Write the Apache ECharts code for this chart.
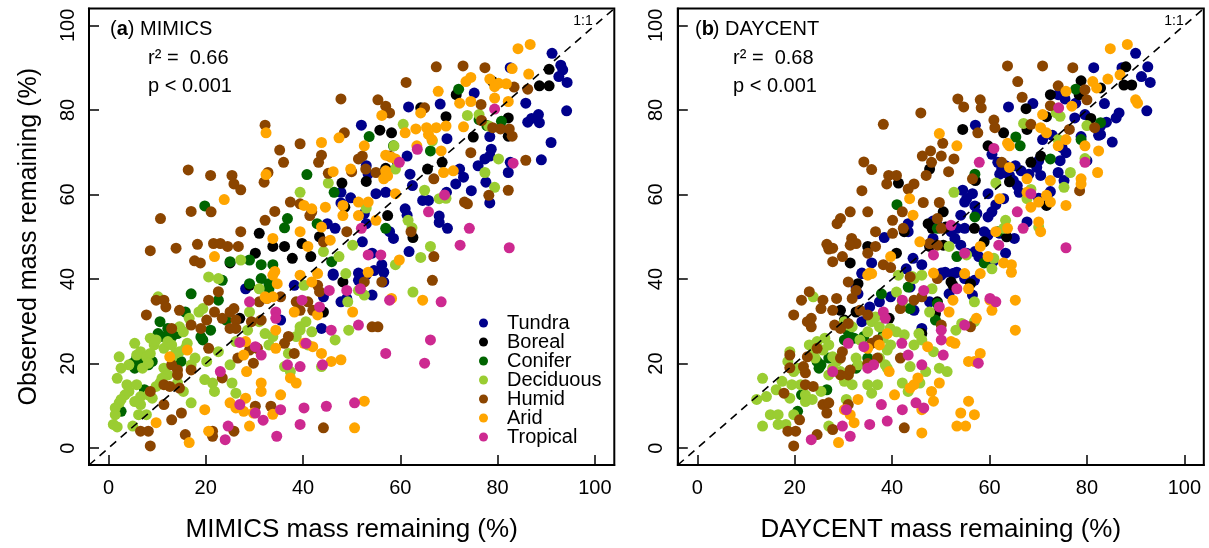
<!DOCTYPE html>
<html>
<head>
<meta charset="utf-8">
<script src="https://cdn.jsdelivr.net/npm/echarts@6/dist/echarts.min.js"></script>
<style>
  html, body { margin: 0; padding: 0; background: #fff; }
  #chart { width: 1209px; height: 548px; }
</style>
</head>
<body>
<div id="chart"></div>
<script>
// observed vs modelled litter mass remaining (%), [model, observed]
const categories = ["Tundra", "Boreal", "Conifer", "Deciduous", "Humid", "Arid", "Tropical"];
const colors = ["#00008B", "#000000", "#006400", "#9ACD32", "#8B4500", "#FFA500", "#CD2990"];
const ticks = [0, 20, 40, 60, 80, 100];
const oneToOne = [-4, 104];

// panel (a) MIMICS
const tundraA = [[91.2,93.4],[93,90.6],[93.4,89.5],[92.6,87.9],[94.3,86.5],[94.2,79.8],[91,72.3],[89,68.2],[88.4,78.9],[87,78],[88.6,77],[86.2,77.1],[85.8,81.6],[82.6,90],[75.2,84],[68.2,81.4],[61.7,80.7],[52,76.4],[69.6,73.2],[78.4,73.7],[78.7,70.7],[78.4,69.1],[77.4,68.4],[76,66.8],[82.6,67.6],[82.2,65.2],[72.2,66],[73,64.1],[71.4,62.5],[69.5,60.5],[77.6,62.9],[78.4,58],[74.6,60.9],[64.6,58.6],[62.5,62.1],[61,56.6],[61.4,55.1],[68,54.9],[69.7,52],[65.8,58.6],[61.4,69.1],[59.4,67.6],[62,64.8],[53,66.8],[53.4,64.8],[55,60.2],[57,60.5],[47.8,60.5],[47.8,58],[49.8,59.2],[52.6,55.5],[53,53.1],[45,53.1],[46.6,52],[57.8,51.2],[58.6,49.6],[52.2,48.8],[54.2,46.1],[56.2,43.4],[61.8,46.5],[46.2,41.2],[51.4,41.4],[53,41],[68,53.4],[46.2,40.9],[51.4,39.7],[54.6,42],[56.6,41.6],[56.6,39.3],[54.2,36.2],[47.8,34.6],[49,35.4],[44.2,35.8],[43.8,28.3],[35.4,30.3],[28.2,37.7],[38.2,38.5]];
const borealA = [[90.6,89.6],[88.6,85.7],[90.6,85.7],[79,86.7],[71.5,83.6],[75,73.6],[82.2,78.1],[82.2,73.8],[64.2,80.5],[69.4,78.4],[55.8,75.2],[58.2,74.6],[68.6,67.6],[65.6,66],[57,66.2],[53,63.1],[48,62.7],[31,50.8],[33.8,47.7],[36.2,47.7],[30.2,46.1],[39.8,48.4],[43.4,50],[48.6,57],[57.4,55],[62.6,49.8],[41.6,45.3],[37.8,44.9],[25,43.8],[48.2,39.3],[44.2,32.2],[27,30.7],[29,38.5]];
const coniferA = [[72,84.9],[76.2,77.7],[77.8,76.3],[80.8,77.3],[53.6,73.7],[58.6,71.5],[66.2,70.3],[40.8,64.7],[46.4,60.5],[19.8,57.3],[36.8,54.3],[36.2,52.1],[42.9,53.1],[57,52],[45.9,44.1],[29,44.5],[31.4,43.4],[33.8,43.4],[25,44.1],[23.4,39.7],[17,36.5],[10.6,29.9],[10.2,27.1],[11.4,26.3],[13,26.3],[14.2,27.1],[12.2,28.3],[13.4,27.9],[14.9,27.9],[14.9,20.5],[5,20.1],[5.8,21.3],[6.6,19.7],[7.4,21.3],[8.2,19.7],[9,20.5],[5.4,18.9],[7.4,13.8],[2.6,8.7],[15.8,32.2],[19,26.3],[19.4,25.6],[21,27.9],[22.6,35],[29,38.9],[33,37.7],[33,38.9],[31.4,40.1],[24.2,30.3]];
const deciduousA = [[60.6,76.6],[73.8,78.7],[76.2,78.9],[78.2,76.2],[58.7,71.5],[66.6,72.7],[59,66],[80.2,68.4],[77.4,65.2],[79.4,61.7],[45.2,62.7],[39.4,60.5],[53,56.8],[65,61],[68,59],[61.6,53.9],[62.4,52.1],[50.2,48],[47.4,45.3],[44.2,46.5],[59,43.4],[64.2,45.1],[66.2,47.7],[69.4,59.1],[27.2,44.5],[20.6,40.5],[22.6,40.1],[10.2,35.8],[1.8,16.5],[4.2,19.7],[2.6,18.9],[2.2,21.6],[3.8,15],[4.2,13.4],[3.4,12.6],[2.6,11.5],[2.2,10.7],[1.4,9.5],[5.8,15],[6.6,12.2],[6.6,10.3],[6.2,7.9],[5.4,11],[1,5.6],[1.8,5],[1.4,7.9],[5,5.2],[7.8,7.9],[8.2,12.6],[9,11.8],[9.8,14.6],[10.6,15.4],[5.4,24.8],[5.8,22],[6.6,22.8],[7.8,21.6],[8.6,22.4],[9.4,24.4],[8.6,26],[9.4,25.2],[9.8,25.6],[11.4,23.6],[12.2,25.2],[13,24.4],[7,18.9],[8.2,20.1],[11.4,18.9],[12.2,17.3],[11,16.5],[13,21.3],[13.8,22.4],[14.6,22.8],[14.6,28.7],[15.4,27.5],[16.2,24.8],[15.8,23.6],[17,19.7],[17.8,21.3],[18.6,32.2],[19.4,33],[20.2,20.5],[19.8,16.2],[21.4,15.4],[21.8,13.4],[22.6,22.8],[25,19.7],[25.4,15.4],[26.2,13],[26.2,25.2],[29,32.2],[28.6,27.9],[31,29.9],[32.2,27.1],[33,24.4],[30.6,23.6],[31,37.7],[33.8,26.4],[37,22.4],[38.6,26.4],[39.4,28.7],[41,24.4],[40.2,38.5],[36.2,19.3],[37.4,18.1],[39.4,27.9],[40.6,29.9],[41.8,27.5],[43.8,19.3],[46.6,25.6],[49.4,27.9],[49.2,34.6],[48.8,41.3],[52.6,36.2],[51.4,37.3],[62.6,36.9],[17,10.7],[15.4,13.4],[14.2,15.4],[16.6,30.7]];
const humidA = [[67.4,90.2],[72.9,90.4],[77.4,90],[61.2,86.5],[47.8,82.6],[55.4,82.4],[57,80.9],[57.8,79.3],[65,80.5],[32.2,76.4],[48.5,74.6],[39.4,72],[35.2,70.5],[36,67.6],[43.8,69.3],[43.2,67.6],[52.2,69.1],[51.4,68.4],[57.8,69.1],[74.5,69.9],[85.8,68.1],[83.4,85.4],[86.2,84.9],[79,75.8],[76.7,77.5],[82.4,75.5],[76.6,81.3],[16.4,65.8],[21,64.5],[25.4,64.5],[25.8,62.5],[27.2,61.1],[32,62.9],[45.2,65],[50,65.4],[55,65.2],[10.7,54.3],[17,56],[21.1,55.9],[32.2,53.9],[37.4,58.2],[39.4,57.8],[34.2,56],[8.6,46.7],[13.9,47.3],[18.3,48.2],[21.6,48.4],[23,48.4],[24.5,47.7],[26.7,47.7],[27.2,51.2],[17.7,44.3],[18.9,43.8],[52.9,66],[73.2,58.2],[73.8,57.8],[78.2,59.8],[82.2,61],[80.6,75.5],[83,73.8],[66.9,63.7],[62.2,51.2],[66.9,45.3],[49,51.2],[44.2,48.8],[41.8,55.9],[41.4,55],[32.8,65.2],[7.8,31.5],[9.8,35],[11.4,35],[11.8,33.4],[14.6,32.6],[13,28.3],[17,29.1],[19,28.3],[20.2,30.3],[20.6,35],[22.6,37],[21.8,32.2],[23.4,30.7],[25,32.2],[25.8,33],[26.2,30.3],[25,28.3],[26.2,28.3],[13,19.7],[14.2,18.5],[14.2,17.3],[17,18.5],[11.4,15],[12.6,14.6],[14.6,14.2],[8.6,13.4],[11.4,10.3],[15,8.3],[13,6.7],[6.6,4],[8.2,4],[8.6,0.5],[15.8,3.2],[21.4,2.8],[21.4,4],[25.8,4],[20.6,23.6],[26.6,21.3],[23.4,16.6],[29.4,29.9],[29.8,20.1],[29,23.2],[30.6,23.6],[31.4,30.3],[31,34.6],[30.2,9.9],[33.4,9.9],[32.6,35.4],[35.4,35.8],[36.2,24.8],[37,26.4],[38.2,22.4],[38.6,34.6],[39.4,32.6],[41,34.6],[43,38.5],[42,32.6],[43.4,37],[44.2,4.8],[52.6,39.3],[56.2,39.3],[66.6,39.7],[54.2,28.7],[55.4,28.7]];
const aridA = [[84.2,94.5],[86.7,95.5],[83,89.8],[86.4,88.5],[67.8,84.4],[73.5,86.7],[74.5,87.7],[78.4,87.3],[79.4,85.5],[80.2,86.3],[81.8,86.2],[79.4,82.8],[72.2,81.6],[74.5,82],[82.2,82],[56.2,78.7],[64.2,79.3],[73,76],[63.2,75.5],[65.4,75.8],[61,74.6],[67.4,75.8],[69.4,76.2],[65.8,74.2],[66.5,73],[68.4,70.3],[63.4,71.5],[52.6,71.5],[43.8,72.3],[47.4,73.4],[32.4,74.6],[32.4,64.7],[46.2,65.4],[49.8,66],[57,69.3],[58.2,68.8],[59,68.4],[57,65.6],[56.6,63.7],[57.4,64.4],[68.9,65.2],[70.9,65.6],[23.8,58.8],[40.2,57.4],[41.8,56.6],[44.6,57],[51.4,58.2],[53.4,58.2],[48.2,57.4],[48.2,55],[59,60.2],[43.8,52.3],[51.4,55],[39.4,51.2],[41,47.7],[55,53.9],[59.8,44.5],[45.6,49.2],[21.8,45.3],[33.8,49.6],[34.2,41.8],[33.8,40.9],[39.4,40.9],[43,41.3],[34.7,38.9],[32.2,35.8],[32.6,35.4],[33.8,35.8],[38.2,32.2],[43,31.5],[42,24],[40.2,24.8],[34.4,27.9],[34.4,23.6],[28.2,25.2],[27.8,22],[16.2,23.2],[12.6,21.6],[28.4,18.1],[31.4,15.4],[31.4,13.4],[35.4,12.6],[37.4,16.6],[38.6,15.4],[28.2,11.8],[25,10.7],[26.2,9.5],[27.8,8.7],[29.8,8.3],[33.8,8],[29,5.2],[19.8,9.1],[9.8,6],[16.6,1.3],[20.6,4],[43.8,22.4],[45.8,20.5],[47.8,20.9],[50.2,32.2],[52.6,11.1],[50.6,4.8],[53.4,41.6],[64.6,35],[58.2,35.4],[41.8,39.3]];
const tropicalA = [[79.4,80.2],[63.5,70.7],[59.8,67.6],[83.2,67.4],[69.1,59.9],[65.8,55.9],[74.2,52],[72.3,48],[82.4,47.4],[52,52],[53.4,45.7],[56,45.7],[23,18.1],[27,25],[29,34.6],[30.2,24],[31.4,22],[34.4,32.2],[34.4,30.7],[36.8,19.7],[39.4,19.3],[39.8,35],[40.6,24.8],[43.4,33.4],[45.4,37.3],[45.8,27.9],[44,19.7],[49,37.3],[51.8,37.7],[51.4,29.1],[57,22.4],[57.8,35],[66.2,25.6],[65,20.1],[68.4,34.6],[27,10.3],[30.2,8.3],[31.8,6.6],[24.6,5.2],[24,2],[34.6,2.8],[35.4,9.1],[40.2,9.5],[39.4,5.6],[44.8,9.9],[50.6,10.7]];

// panel (b) DAYCENT
const tundraB = [[90,93.4],[92.5,90.2],[91.2,87.9],[93,86.5],[87.2,90],[81.4,90],[92.3,79.8],[85.2,72.4],[86.6,79.3],[86,78.1],[84,77.1],[82.8,76.2],[82.8,74.2],[83.6,81.5],[74.1,83.6],[75.5,82.6],[77.7,81.6],[68.9,81.5],[63.9,80.7],[57.1,76.4],[77.5,78.1],[79.6,78.9],[72.9,74],[78.8,73.7],[82.4,74],[70.9,73],[74.9,71.1],[75.7,69.9],[74.5,68],[74.1,65.2],[75.3,63.3],[80,68],[70.1,68],[69.7,66.4],[70.5,64.5],[68.1,64.8],[66.5,65.6],[65.3,66.8],[63.3,65.2],[64.1,64.5],[60.5,69.5],[61.7,67.6],[62.5,66],[62.1,64.8],[63.3,66.8],[65.7,62.1],[66.1,60.5],[64.9,63.3],[72.5,60.7],[70.1,59.1],[62.9,59],[61.3,57.6],[60.5,55.9],[59.7,54.7],[67.7,53.5],[65.1,49.6],[57,57.3],[57.4,55.5],[59.7,60.2],[56.5,60.2],[54.5,61],[55.3,59],[54.9,58.2],[54.1,55.1],[53.3,52],[54.9,52],[58.9,51.2],[59.7,50.4],[62.1,50.8],[48.4,53.7],[49.3,52.7],[52.1,51.2],[52.9,49.6],[48.4,49.6],[54.1,48],[55.3,46.1],[57,46.5],[57.8,45.3],[63.3,46.1],[43.3,53.1],[43.3,51.2],[38.4,49.8],[35.8,43.8],[44.3,44.9],[46.1,43.4],[33.8,41.4],[50.1,41.4],[52.9,41.4],[60.7,44.1],[33.8,41.3],[32.6,38.1],[33,36.5],[35.4,33.4],[33.8,29.9],[37.4,34.6],[39.7,35.8],[43.7,38.1],[44.5,32.6],[47.7,34.6],[50.1,40.9],[50.9,41.6],[52.5,41.3],[53.3,41.6],[54.9,40.1],[56.9,39.7],[56.5,36.2],[51.7,36.5],[46.1,28.3],[42.9,42.4]];
const borealB = [[78.8,86.9],[82.8,85.2],[78.4,83.6],[72.5,83.6],[88,90.2],[87.6,85.9],[89.2,85.9],[67.5,80.3],[71.7,78.4],[80.8,78],[54.5,75.4],[62.9,74.6],[67.7,75.4],[59.7,71.5],[68.5,67.6],[47.7,66],[41.3,62.7],[70.5,69.1],[57.1,63.3],[64.1,63],[50.5,55.9],[47.4,53.1],[48.2,52],[51,52.3],[56.9,52],[58.9,48.8],[42.5,51.2],[35,47.7],[40.9,46.1],[47.7,47.7],[50.5,48],[63.5,50],[31.4,43.8],[71.7,57.4],[33,38.9],[29.4,32.6],[30.2,30.3],[32.6,32.2],[49.3,34.6],[52.1,39.3],[52.5,38.5],[48.9,31.8],[46.1,27.1],[39.4,30.7],[56.1,38.9]];
const coniferB = [[77.7,84.9],[65.4,73.6],[66.3,71.5],[72.5,68.4],[78.8,73],[57,64.8],[82.8,77],[41,57.6],[49.3,52],[57,54.7],[58.9,43.8],[53.3,45.3],[61.7,51.2],[24.6,20.5],[25.4,19.7],[25,18.9],[27,21.3],[26.6,13.8],[21.4,12.6],[20.6,8.7],[30.2,25.6],[32.2,26],[34.2,26.4],[35,21.3],[37.8,36.5],[38.2,26.8],[43.7,33],[43.3,38.1],[48.9,30.3],[49.3,34.2],[32.6,18.9],[31,27.5]];
const deciduousB = [[67,76.8],[74.5,78.5],[80,76.3],[74.1,73],[76.6,65.2],[75.3,61.7],[79.6,68.5],[52.7,60.5],[61.3,62.7],[68.5,61.2],[67.7,59],[63.3,53.9],[62.9,52],[70.1,52.3],[55.3,45.7],[51.7,47.7],[60.9,44.9],[44.1,40.6],[73.7,79.3],[13.4,16.5],[12.2,11.5],[14.2,12.2],[13.4,5.2],[15,7.9],[16.6,7.9],[16.6,5.6],[18.2,5.6],[16.2,13.8],[17.4,15.8],[18.6,20.5],[19,22.8],[19,11.8],[19.4,15],[19.8,18.1],[20.6,18.9],[19.8,7.9],[22.2,11],[21.2,15],[22.2,12.6],[23.6,11.5],[23,24.4],[24.6,25.2],[23.8,22.8],[24.2,21.3],[23.8,35.8],[26.2,26],[27,24.4],[25.8,23.2],[27.8,21.6],[27,17.3],[25.4,13.4],[28.6,20.5],[29.4,18.1],[27.8,18.9],[27,5.2],[30.2,29.9],[31,29.1],[31.8,28.7],[30.2,15.8],[31,17.3],[31.8,15],[30.6,11.5],[32.6,21.3],[33,19.7],[33.4,25.6],[35,27.5],[35.8,29.9],[35,15],[35.8,13],[37,15],[36.6,31],[37.4,28.7],[38.2,26],[39,23.2],[39,18.9],[38.6,19.7],[39.6,28.3],[40.9,27.5],[42.5,26.8],[40.9,36.9],[42.1,34.6],[41.3,40.9],[42.1,15.4],[43.3,13.4],[43.7,19.3],[44.5,24.4],[44.5,40.1],[46.1,40.9],[45.5,27.1],[46.1,25.6],[45.7,15.4],[46.9,18.1],[48.2,37.7],[47.7,32.2],[48.5,22.8],[49.7,18.9],[51.3,18.1],[53.1,27.9],[54.3,29.5],[56.9,29.9],[56.9,34.6],[60.5,42.4],[37.4,21.3],[39.7,24.4]];
const humidB = [[63.7,90.4],[70.9,90.4],[77.1,90],[65.8,86.7],[66.7,83],[74.1,85.7],[79.6,84.8],[72.5,81],[53.5,82.6],[54.7,80.7],[58.1,82.4],[58.3,80.5],[45.9,79.3],[38.2,76.6],[60.9,77.6],[61.1,75.8],[57.6,74.6],[68.5,76.6],[76.4,75.4],[81.6,75.8],[50.4,72.1],[47.9,70.3],[50.1,69.1],[48.1,67.6],[52.7,68.4],[51.6,65.4],[46.2,69.1],[47,64.5],[34.2,67.7],[35.8,65.9],[39.3,64.5],[40.9,64.5],[38.9,62.5],[44.5,62.5],[43.3,61.3],[46.4,58.1],[49.7,58.1],[42.1,55.9],[33.8,60.9],[31.4,55.9],[29.4,54.3],[28.7,53.1],[35,55.9],[40.1,53.9],[42.3,52],[40.1,50.8],[36.6,51.2],[31.7,49.6],[32.6,48.4],[31.4,48],[26.6,48.2],[27,47.1],[27.8,47.3],[29.8,45.3],[27.8,44.1],[35,46.1],[36.6,47.7],[38.2,43.4],[39.7,42.7],[49.3,54.3],[56.5,63.7],[78.5,60.9],[62.5,67.6],[80,82.4],[50.1,52],[47.7,48.4],[49.3,48],[19.8,31.5],[21.4,35],[23,37],[23.4,30.7],[23.4,28.7],[22.6,29.9],[25.4,33],[27.8,32.6],[28.6,35.4],[25.8,35],[28.2,29.1],[29.4,28.3],[31,39.3],[31.8,35.4],[31,29.5],[32.6,37.3],[33.4,32.6],[35,31.5],[35.8,24.8],[37,25.6],[22.6,21.6],[24.6,23.6],[21.8,19.3],[19,22],[19,19],[17.8,13],[22.2,15],[23.8,14.6],[22.2,17.8],[25.8,10.3],[27,10.7],[26.6,8.3],[21,6.7],[18.6,4],[20.2,4],[19.8,0.5],[24.6,3.2],[27.8,4.4],[29.4,21.3],[29.8,22.8],[29.4,17.3],[31,17.3],[31.4,18.5],[31,10.3],[35,20],[37,21.3],[41.7,21.3],[41.7,33],[43.7,40.5],[44.5,35],[46.1,35.8],[49.3,40.1],[50.1,29.1],[56.1,28.7],[42.5,4.8]];
const aridB = [[84.8,94.5],[88.3,95.5],[84.3,87.3],[86.8,88.3],[81.2,86.7],[82,85.2],[90,82.4],[90.4,81.6],[75.7,84.4],[76.9,80.9],[70.9,78.9],[70.5,75.8],[71.7,74.6],[63.7,72.1],[64.1,71.5],[75.7,73],[74.1,71.5],[79.6,71.5],[82.4,70.3],[82.2,65.2],[78.8,63.7],[78.8,62.5],[72.5,63.3],[75.7,57.4],[71.7,59.8],[72.5,58.2],[70.1,58.2],[67.7,60.5],[68.5,57],[49.7,74.4],[53.3,71.5],[67.7,63.7],[62.1,59],[64.1,66.4],[43.6,59],[44.3,55.1],[45.7,48.8],[61.3,51.2],[63.7,52],[70.1,53.5],[70.5,51.2],[58.1,47.7],[59.7,45.3],[62.9,43.8],[64.5,43.4],[35.4,41.4],[39.7,45.3],[48.5,41.4],[35,40.9],[35.8,41.3],[35,23.6],[37.4,24.4],[39,27.1],[39.4,18.1],[40.5,12.6],[31.4,7.9],[29,1.3],[32.2,6],[33,11.5],[30.2,9.1],[44.5,15],[45.3,16.6],[46.1,9.1],[47.3,24],[48.1,13.4],[48.5,11.1],[49.7,15.4],[46.1,3.6],[51.7,32.2],[52.5,35],[52.1,25.2],[52.9,24.8],[55.7,20.5],[56.9,20.5],[58.1,22.4],[54.1,8.3],[55.7,11.1],[53.3,5.2],[55.1,5.2],[56.9,7.9],[57.3,30.7],[60.5,32.6],[60.1,35],[64.5,41.6],[65.3,35],[65.3,27.9],[54.9,41.3],[58.1,41.3],[55.7,37.7],[43.7,14.2]];
const tropicalB = [[74.2,80.5],[60.9,70.9],[57.9,67.6],[79.6,67.6],[68.5,60.2],[65.7,55.9],[66.9,52],[75.7,47.4],[61.9,48],[52.1,52.7],[48.5,45.7],[54.9,46.1],[23.4,2],[27.8,18.1],[29.8,5.2],[31.4,2.8],[31,24.8],[34.2,24],[35,18.9],[36.2,19.7],[35.4,5.6],[39,6.4],[37.8,10.3],[38.2,32.2],[38.6,30.7],[42.1,35],[42,24.8],[43.3,22],[46.1,19.7],[46.5,37.3],[42.1,9.1],[44.9,10.7],[46.5,9.5],[49.7,33.4],[50.1,27.9],[50.1,25.6],[50.5,22],[53.3,37.7],[54.9,29.1],[57.7,20.1],[60.1,35.4],[61.3,34.6],[30.6,9.1]];

const panelA = [tundraA, borealA, coniferA, deciduousA, humidA, aridA, tropicalA];
const panelB = [tundraB, borealB, coniferB, deciduousB, humidB, aridB, tropicalB];

const FONT = "'Liberation Sans', Arial, Helvetica, sans-serif";
const gridA = { left: 89, top: 8.5, width: 525.3, height: 459.5 };
const gridB = { left: 677.8, top: 8.5, width: 526, height: 459.5 };

function makeAxis(gridIndex, name, nameGap, isY) {
  return {
    type: 'value',
    gridIndex: gridIndex,
    min: oneToOne[0],
    max: oneToOne[1],
    name: name,
    nameLocation: 'middle',
    nameGap: nameGap,
    nameTextStyle: { fontFamily: FONT, fontSize: isY ? 25 : 26, color: '#000' },
    axisLine: { show: true, onZero: false, lineStyle: { color: '#000', width: 2 } },
    splitLine: { show: false },
    axisTick: {
      show: true, inside: true, length: 10, customValues: ticks,
      lineStyle: { color: '#000', width: 1.5 }
    },
    axisLabel: {
      customValues: ticks, fontFamily: FONT, fontSize: 20, color: '#000',
      margin: isY ? 11 : 13, rotate: isY ? 90 : 0
    }
  };
}

let chartDom = document.getElementById('chart');
let myChart = echarts.init(chartDom, null, { renderer: 'canvas' });
let option;

const series = [];
[panelA, panelB].forEach((panel, p) => {
  panel.forEach((pts, i) => {
    series.push({
      name: categories[i],
      type: 'scatter',
      xAxisIndex: p,
      yAxisIndex: p,
      data: pts,
      symbol: 'circle',
      symbolSize: 11,
      itemStyle: { color: colors[i], opacity: 1 },
      emphasis: { disabled: true },
      z: 2
    });
  });
  series.push({
    type: 'line',
    xAxisIndex: p,
    yAxisIndex: p,
    data: [[oneToOne[0], oneToOne[0]], [oneToOne[1], oneToOne[1]]],
    showSymbol: false,
    silent: true,
    lineStyle: { color: '#000', width: 1.6, type: [8, 6] },
    z: 5
  });
});

function txt(x, y, text, weight) {
  return {
    type: 'text', x: x, y: y,
    style: { text: text, font: (weight || 'normal') + ' 20px ' + FONT, fill: '#000', verticalAlign: 'middle' }
  };
}

function panelText(x, letter, model, r2) {
  return [
    txt(x, 29, '('),
    txt(x + 6.7, 29, letter, 'bold'),
    txt(x + 17.8, 29, ') ' + model),
    txt(x + 38, 58, 'r\u00B2 =  ' + r2),
    txt(x + 38, 86, 'p < 0.001')
  ];
}

option = {
  backgroundColor: '#fff',
  animation: false,
  grid: [
    Object.assign({ show: true, borderColor: '#000', borderWidth: 2 }, gridA),
    Object.assign({ show: true, borderColor: '#000', borderWidth: 2 }, gridB)
  ],
  xAxis: [
    makeAxis(0, 'MIMICS mass remaining (%)', 52, false),
    makeAxis(1, 'DAYCENT mass remaining (%)', 52, false)
  ],
  yAxis: [
    makeAxis(0, 'Observed mass remaining (%)', 47, true),
    makeAxis(1, '', 40, true)
  ],
  legend: {
    data: categories,
    orient: 'vertical',
    left: 474,
    top: 308,
    itemWidth: 9,
    itemHeight: 9,
    itemGap: -1,
    icon: 'circle',
    selectedMode: false,
    textStyle: { fontFamily: FONT, fontSize: 20, color: '#000', lineHeight: 19, padding: [0, 0, 0, 14] }
  },
  graphic: {
    elements: [
      ...panelText(110, 'a', 'MIMICS', '0.66'),
      ...panelText(695, 'b', 'DAYCENT', '0.68'),
      { type: 'text', x: 583, y: 21, style: { text: '1:1', font: '14px ' + FONT, fill: '#000', align: 'center', verticalAlign: 'middle' } },
      { type: 'text', x: 1174, y: 21, style: { text: '1:1', font: '14px ' + FONT, fill: '#000', align: 'center', verticalAlign: 'middle' } }
    ]
  },
  series: series
};

option && myChart.setOption(option);
</script>
</body>
</html>
